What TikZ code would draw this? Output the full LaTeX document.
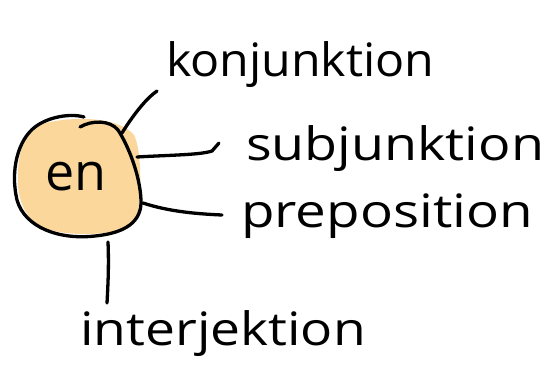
\documentclass[tikz,border=0pt]{standalone}
\usepackage{fontspec}
\setmainfont{Open Sans}
\definecolor{blob}{HTML}{FBD79C}
\begin{document}
\begin{tikzpicture}[x=1pt,y=-1pt,
  word/.style={inner sep=0pt, font=\fontsize{46}{50}\selectfont, anchor=base west},
  link/.style={line width=3.3pt, line cap=round, line join=round}]
\useasboundingbox (0,0) rectangle (553,384);
% orange fill, slightly offset
\fill[blob] (50,122) .. controls (80,116) and (120,118) .. (134,135)
  .. controls (142,150) and (142,200) .. (136,220)
  .. controls (128,235) and (80,236) .. (60,232)
  .. controls (25,228) and (16,200) .. (18,170)
  .. controls (20,140) and (30,126) .. (50,122) -- cycle;
% blob outline
\draw[link] (80,127) .. controls (92,120) and (110,120) .. (118,130)
  .. controls (128,145) and (140,175) .. (141,200)
  .. controls (142,222) and (125,233) .. (95,236)
  .. controls (60,240) and (25,228) .. (17,200)
  .. controls (10,170) and (18,140) .. (35,127)
  .. controls (48,117) and (70,113) .. (84,117);
\node[inner sep=0pt, font=\fontsize{52}{56}\selectfont] (en) at (76,177) {en};
\node[word] (konj) at (166,76) {\scalebox{1.05}[1]{konjunktion}};
\node[word] (subj) at (246,160) {\scalebox{1.17}[1]{subjunktion}};
\node[word] (prep) at (241,227) {\scalebox{1.19}[1]{preposition}};
\node[word] (inter) at (80,345) {\scalebox{1.16}[1]{interjektion}};
\coordinate (k0) at (122,133);
\coordinate (s0) at (137,157);
\coordinate (p0) at (143,203);
\coordinate (i0) at (108,242);
\draw[link] (k0) .. controls (135,112) and (148,97) .. (157,91);
\draw[link] (s0) .. controls (170,155) and (200,155) .. (212,151) -- (219,143);
\draw[link] (p0) .. controls (170,212) and (200,214) .. (222,215);
\draw[link] (i0) .. controls (109,265) and (108,285) .. (107,303);
\end{tikzpicture}
\end{document}
